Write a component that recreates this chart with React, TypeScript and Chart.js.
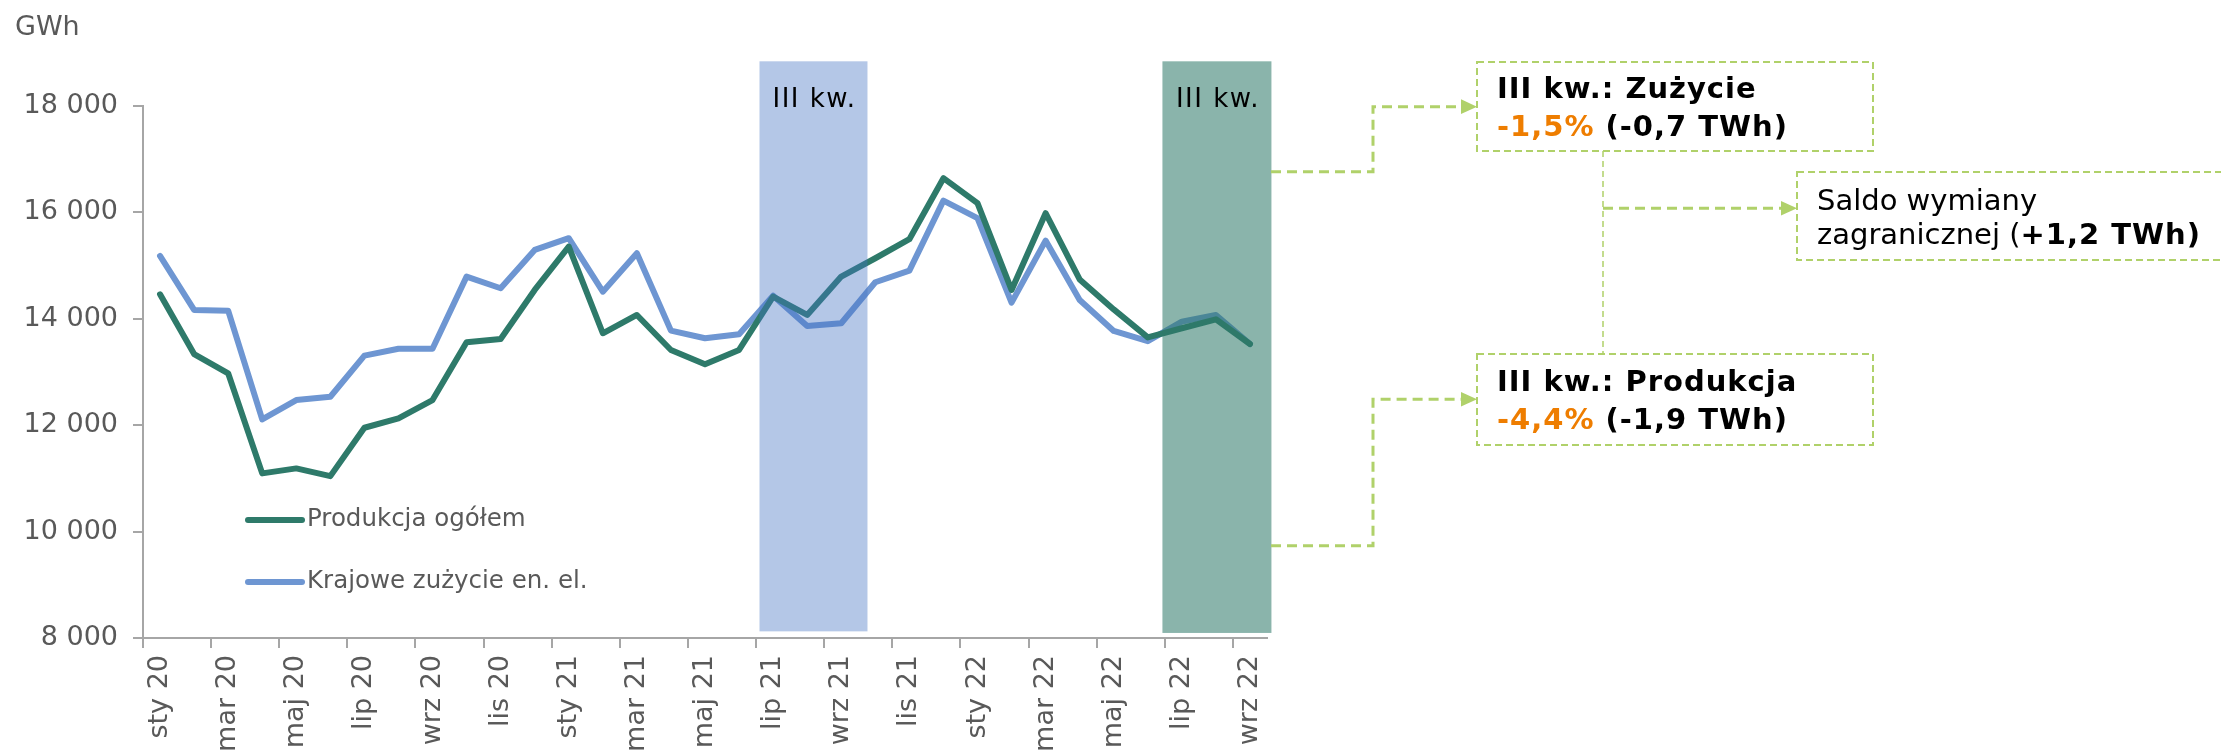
import React, { useEffect, useRef } from "react";
import { Chart, registerables } from "chart.js";

Chart.register(...registerables);

const months: string[] = [
  "sty 20", "lut 20", "mar 20", "kwi 20", "maj 20", "cze 20", "lip 20", "sie 20", "wrz 20", "paź 20", "lis 20", "gru 20",
  "sty 21", "lut 21", "mar 21", "kwi 21", "maj 21", "cze 21", "lip 21", "sie 21", "wrz 21", "paź 21", "lis 21", "gru 21",
  "sty 22", "lut 22", "mar 22", "kwi 22", "maj 22", "cze 22", "lip 22", "sie 22", "wrz 22",
];

const produkcja: number[] = [
  14461, 13338, 12975, 11094, 11188, 11043, 11952, 12129, 12473, 13558, 13620, 14542,
  15357, 13728, 14072, 13414, 13144, 13414, 14416, 14072, 14793, 15138, 15496, 16643,
  16173, 14542, 15985, 14740, 14176, 13650, 13822, 13991, 13526,
];

const zuzycie: number[] = [
  15182, 14166, 14153, 12110, 12473, 12535, 13307, 13438, 13438, 14793, 14574, 15295,
  15515, 14510, 15232, 13777, 13634, 13709, 14435, 13865, 13916, 14687, 14905, 16222,
  15891, 14303, 15470, 14354, 13772, 13580, 13946, 14072, 13526,
];

const seriesNames: string[] = ["Produkcja ogółem", "Krajowe zużycie en. el."];
const yTicks: number[] = [8000, 10000, 12000, 14000, 16000, 18000];

// quarter highlight bands (category index units, value units)
const bandFrom: number[] = [17.6, 29.43];
const bandTo: number[] = [20.77, 32.63];
const bandTop: number[] = [18840, 18840];
const bandBottom: number[] = [8125, 8095];
const bandLabels: string[] = ["III kw.", "III kw."];

const GREEN = "#2E7A6A";
const BLUE = "#6E96D2";
const BAND_COLORS = ["rgba(68,114,196,0.40)", "rgba(46,122,106,0.56)"];
const AXIS = "#A6A6A6";
const TXT = "#595959";
const LIME = "#B0D16A";
const ORANGE = "#EE7D00";
const FONT = "'DejaVu Sans', Verdana, sans-serif";

const fmt = (v: number) => {
  const t = Math.floor(v / 1000);
  const r = Math.round(v % 1000);
  return `${t} ${String(r).padStart(3, "0")}`;
};

const bandPlugin = {
  id: "bands",
  afterDatasetsDraw(chart: any) {
    const { ctx, scales } = chart;
    const x = scales.x;
    const y = scales.y;
    ctx.save();
    for (let i = 0; i < bandFrom.length; i++) {
      const x0 = x.getPixelForValue(bandFrom[i]);
      const x1 = x.getPixelForValue(bandTo[i]);
      const y0 = y.getPixelForValue(bandTop[i]);
      const y1 = y.getPixelForValue(bandBottom[i]);
      ctx.fillStyle = BAND_COLORS[i];
      ctx.fillRect(x0, y0, x1 - x0, y1 - y0);
      ctx.fillStyle = "#000";
      ctx.font = `26px ${FONT}`;
      (ctx as any).letterSpacing = "1.5px";
      ctx.textAlign = "center";
      ctx.textBaseline = "alphabetic";
      ctx.fillText(bandLabels[i], (x0 + x1) / 2 + 1, y0 + 46);
    }
    ctx.restore();
  },
};

const legendPlugin = {
  id: "innerLegend",
  afterDraw(chart: any) {
    const { ctx, chartArea } = chart;
    ctx.save();
    const colors = [GREEN, BLUE];
    for (let i = 0; i < seriesNames.length; i++) {
      const yy = chartArea.top + 414 + i * 62;
      const x0 = chartArea.left + 105;
      ctx.strokeStyle = colors[i];
      ctx.lineWidth = 6;
      ctx.lineCap = "round";
      ctx.beginPath();
      ctx.moveTo(x0, yy);
      ctx.lineTo(x0 + 54, yy);
      ctx.stroke();
      ctx.fillStyle = TXT;
      ctx.font = `24.5px ${FONT}`;
      ctx.textAlign = "left";
      ctx.textBaseline = "middle";
      ctx.fillText(seriesNames[i], x0 + 59, yy);
    }
    ctx.restore();
  },
};

export default function App() {
  const ref = useRef<HTMLCanvasElement | null>(null);

  useEffect(() => {
    if (!ref.current) return;
    const chart = new Chart(ref.current, {
      type: "line",
      data: {
        labels: months,
        datasets: [
          {
            label: seriesNames[0],
            data: produkcja,
            borderColor: GREEN,
            backgroundColor: GREEN,
            borderWidth: 6,
            pointRadius: 0,
            tension: 0,
            borderCapStyle: "round",
            borderJoinStyle: "round",
          },
          {
            label: seriesNames[1],
            data: zuzycie,
            borderColor: BLUE,
            backgroundColor: BLUE,
            borderWidth: 6,
            pointRadius: 0,
            tension: 0,
            borderCapStyle: "round",
            borderJoinStyle: "round",
          },
        ],
      },
      options: {
        responsive: false,
        animation: false,
        devicePixelRatio: 1,
        layout: { padding: { top: 106, right: 954, bottom: 0, left: 0 } },
        plugins: { legend: { display: false }, tooltip: { enabled: false } },
        scales: {
          x: {
            type: "category",
            offset: true,
            afterFit: (s: any) => {
              s.height = 113;
            },
            grid: {
              offset: true,
              drawOnChartArea: false,
              drawTicks: true,
              tickLength: 10,
              lineWidth: 2,
              tickColor: (c: any) => (typeof c.index === "number" && c.index % 2 === 0 ? AXIS : "rgba(0,0,0,0)"),
            },
            border: { display: true, color: AXIS, width: 2 },
            ticks: {
              autoSkip: false,
              minRotation: 90,
              maxRotation: 90,
              padding: 7,
              color: TXT,
              font: { family: FONT, size: 27 },
              callback: (_v: any, i: number) => (i % 2 === 0 ? months[i] : ""),
            },
          },
          y: {
            min: 8000,
            max: 18000,
            afterFit: (s: any) => {
              s.width = 143;
            },
            afterBuildTicks: (s: any) => {
              s.ticks = yTicks.map((v) => ({ value: v }));
            },
            grid: {
              drawOnChartArea: false,
              drawTicks: true,
              tickLength: 10,
              lineWidth: 2,
              color: AXIS,
              tickColor: AXIS,
            },
            border: { display: true, color: AXIS, width: 2 },
            ticks: {
              padding: 15,
              color: TXT,
              font: { family: FONT, size: 27 },
              callback: (v: any) => fmt(Number(v)),
            },
          },
        },
      },
      plugins: [bandPlugin, legendPlugin],
    } as any);
    return () => chart.destroy();
  }, []);

  const dashed = { fill: "none", stroke: LIME } as const;
  const boldStyle = { letterSpacing: "1px" };

  return (
    <div style={{ position: "absolute", left: 0, top: 0, width: 2221, height: 751, background: "#fff", overflow: "hidden" }}>
      <canvas ref={ref} width={2221} height={751} style={{ display: "block", position: "absolute", left: 0, top: 0 }} />
      <svg width={2221} height={751} style={{ position: "absolute", left: 0, top: 0 }} fontFamily={FONT}>
        <text x={15} y={35} fontSize={27} fill={TXT}>GWh</text>

        <rect x={1477} y={62} width={396} height={89} {...dashed} strokeWidth={2} strokeDasharray="7 4" />
        <rect x={1477} y={354} width={396} height={91} {...dashed} strokeWidth={2} strokeDasharray="7 4" />
        <rect x={1797} y={172} width={470} height={88} {...dashed} strokeWidth={2} strokeDasharray="7 4" />

        <path d="M1271 171.7 H1373 V106.7 H1462" {...dashed} strokeWidth={3} strokeDasharray="10 6" />
        <polygon points="1461,99.3 1477,106.7 1461,114" fill={LIME} />
        <path d="M1271 545.7 H1373 V399.3 H1462" {...dashed} strokeWidth={3} strokeDasharray="10 6" />
        <polygon points="1461,392 1477,399.3 1461,406.6" fill={LIME} />
        <path d="M1603 151 V354" {...dashed} strokeWidth={1.5} strokeDasharray="6 4" />
        <path d="M1603 208.3 H1782" {...dashed} strokeWidth={3} strokeDasharray="10 6" />
        <polygon points="1781,201 1797,208.3 1781,215.6" fill={LIME} />

        <text x={1497} y={98} fontSize={29} fontWeight="bold" fill="#000" style={boldStyle}>III kw.: Zużycie</text>
        <text x={1497} y={136} fontSize={29} fontWeight="bold" fill="#000" style={boldStyle}>
          <tspan fill={ORANGE}>-1,5%</tspan> (-0,7 TWh)
        </text>

        <text x={1497} y={391} fontSize={29} fontWeight="bold" fill="#000" style={boldStyle}>III kw.: Produkcja</text>
        <text x={1497} y={429} fontSize={29} fontWeight="bold" fill="#000" style={boldStyle}>
          <tspan fill={ORANGE}>-4,4%</tspan> (-1,9 TWh)
        </text>

        <text x={1817} y={210} fontSize={29} fill="#000">Saldo wymiany</text>
        <text x={1817} y={244} fontSize={29} fill="#000">
          zagranicznej (<tspan fontWeight="bold" style={boldStyle}>+1,2 TWh)</tspan>
        </text>
      </svg>
    </div>
  );
}
